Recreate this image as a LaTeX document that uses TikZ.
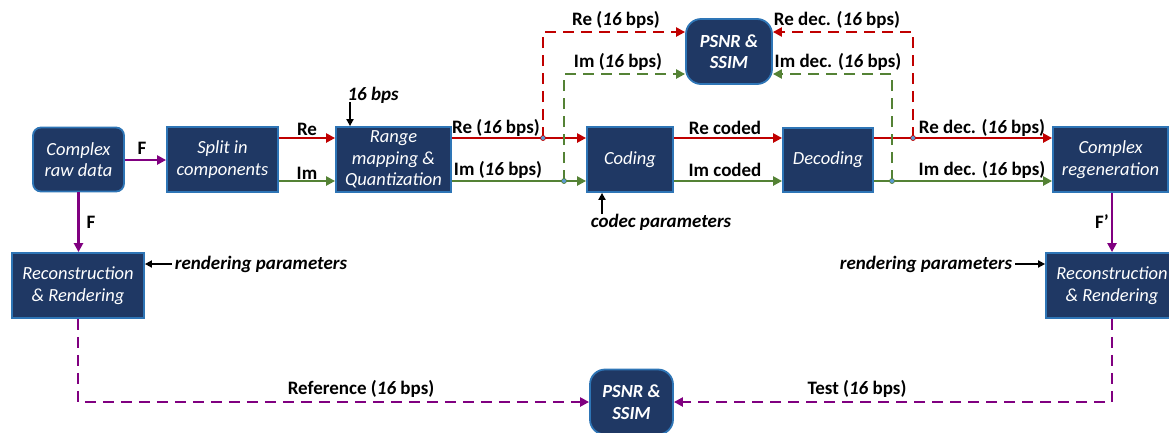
\documentclass[tikz,border=0pt]{standalone}
\usepackage{fontspec}
\setmainfont{Carlito}
\usetikzlibrary{arrows.meta,calc}
\definecolor{boxfill}{RGB}{31,56,100}
\definecolor{boxline}{RGB}{46,117,182}
\definecolor{cre}{RGB}{192,0,0}
\definecolor{cim}{RGB}{84,130,53}
\definecolor{cpu}{RGB}{128,0,128}
\definecolor{dotfill}{RGB}{91,155,213}
\tikzset{
  blk/.style={draw=boxline, fill=boxfill, line width=1.8pt, text=white, align=center, inner sep=0pt,
    font=\itshape\fontsize{18.5}{21.5}\selectfont},
  rblk/.style={blk, rounded corners=8pt},
  pblk/.style={blk, rounded corners=15pt, font=\bfseries\itshape\fontsize{18.5}{21.5}\selectfont},
  lab/.style={font=\bfseries\fontsize{19}{21}\selectfont, inner sep=0pt},
  ilab/.style={font=\bfseries\itshape\fontsize{19}{21}\selectfont, inner sep=0pt},
  tip/.style={-{Triangle[length=9pt,width=9pt]}},
  sarrow/.style={tip, line width=2.8pt},
  rearrow/.style={sarrow, cre},
  imarrow/.style={sarrow, cim},
  puarrow/.style={sarrow, cpu},
  dsh/.style={dash pattern=on 11pt off 7pt},
  karrow/.style={-{Triangle[length=7pt,width=7pt]}, line width=1.8pt, black},
  jdot/.style={circle, fill=dotfill, draw=#1, line width=0.7pt, inner sep=0pt, minimum size=5pt}
}
\begin{document}
\begin{tikzpicture}[x=1pt,y=-1pt]
\useasboundingbox (0,0) rectangle (1169,432);
\clip (0,0) rectangle (1169,432);
% nodes
\node[rblk, minimum width=91pt, minimum height=64pt] (raw) at (78.5,159.5) {Complex\\raw data};
\node[blk, minimum width=111pt, minimum height=65pt] (split) at (222.5,159.5) {Split in\\components};
\node[blk, minimum width=115pt, minimum height=65pt] (range) at (393.5,159.5) {Range\\mapping \&\\Quantization};
\node[blk, minimum width=86pt, minimum height=65pt] (coding) at (630,159.5) {Coding};
\node[blk, minimum width=90pt, minimum height=64pt] (decoding) at (828,160) {Decoding};
\node[pblk, minimum width=86pt, minimum height=65pt] (psnr1) at (729,51.5) {PSNR \&\\SSIM};
\node[blk, minimum width=115pt, minimum height=65pt] (regen) at (1110.5,159.5) {Complex\\regeneration};
\node[blk, minimum width=132pt, minimum height=65pt] (rr1) at (78,285.5) {Reconstruction\\\& Rendering};
\node[blk, minimum width=132pt, minimum height=65pt] (rr2) at (1112,285.5) {Reconstruction\\\& Rendering};
\node[pblk, minimum width=83pt, minimum height=65pt] (psnr2) at (631.5,402) {PSNR \&\\SSIM};
% helper coordinates
\coordinate (reY) at (0,138);
\coordinate (imY) at (0,181);
\coordinate (jr1) at (543,138);
\coordinate (jg1) at (564,181);
\coordinate (jr2) at (913,138);
\coordinate (jg2) at (892,181);
\coordinate (bps) at (350,102);
\coordinate (cp) at (602,214);
% main arrows
\draw[puarrow] (raw.east |- 0,160) -- (split.west |- 0,160);
\draw[rearrow] (split.east |- reY) -- (range.west |- reY);
\draw[imarrow] (split.east |- imY) -- (range.west |- imY);
\draw[rearrow] (range.east |- reY) -- (coding.west |- reY);
\draw[imarrow] (range.east |- imY) -- (coding.west |- imY);
\draw[rearrow] (coding.east |- reY) -- (decoding.west |- reY);
\draw[imarrow] (coding.east |- imY) -- (decoding.west |- imY);
\draw[rearrow] (decoding.east |- reY) -- (regen.west |- reY);
\draw[imarrow] (decoding.east |- imY) -- (regen.west |- imY);
% dashed branches
\draw[rearrow, dsh] (jr1) |- ($(psnr1.west)+(0,-19.5)$);
\draw[imarrow, dsh] (jg1) |- ($(psnr1.west)+(0,22.5)$);
\draw[rearrow, dsh] (jr2) |- ($(psnr1.east)+(0,-19.5)$);
\draw[imarrow, dsh] (jg2) |- ($(psnr1.east)+(0,22.5)$);
\node[jdot=cre] at (jr1) {};
\node[jdot=cim] at (jg1) {};
\node[jdot=cre] at (jr2) {};
\node[jdot=cim] at (jg2) {};
% vertical F
\draw[puarrow] (raw.south) -- (raw.south |- rr1.north);
\draw[puarrow] (regen.south -| rr2.north) -- (rr2.north);
\draw[puarrow, dsh] (rr1.south) |- (psnr2.west);
\draw[puarrow, dsh] (rr2.south) |- (psnr2.east);
% parameter arrows
\draw[karrow] (bps) -- (bps |- range.north);
\draw[karrow] (cp) -- (cp |- coding.south);
\node[ilab] (rp1) at (261,264) {rendering parameters};
\node[ilab] (rp2) at (926,264) {rendering parameters};
\draw[karrow] ($(rp1.west)+(-3,0)$) -- (rp1.west -| rr1.east);
\draw[karrow] ($(rp2.east)+(3,0)$) -- (rp2.east -| rr2.west);
\node[ilab] (bpsl) at (373,95) {16 bps};
\node[ilab] (cpl) at (661,222) {codec parameters};
% labels
\node[lab] at (142,148) {F};
\node[lab] at (307,129) {Re};
\node[lab] at (307,173) {Im};
\node[lab] at (496,128) {Re (\textit{16} bps)};
\node[lab] at (498,170) {Im (\textit{16} bps)};
\node[lab] at (725,128) {Re coded};
\node[lab] at (725,170) {Im coded};
\node[lab] at (982,128) {Re dec. (\textit{16} bps)};
\node[lab] at (982,170) {Im dec. (\textit{16} bps)};
\node[lab] at (616,20) {Re (\textit{16} bps)};
\node[lab] at (618,62) {Im (\textit{16} bps)};
\node[lab] at (837,20) {Re dec. (\textit{16} bps)};
\node[lab] at (838,62) {Im dec. (\textit{16} bps)};
\node[lab] at (91,222) {F};
\node[lab] at (1102,222) {F’};
\node[lab] at (361,389) {Reference (\textit{16} bps)};
\node[lab] at (857,389) {Test (\textit{16} bps)};
\end{tikzpicture}
\end{document}
